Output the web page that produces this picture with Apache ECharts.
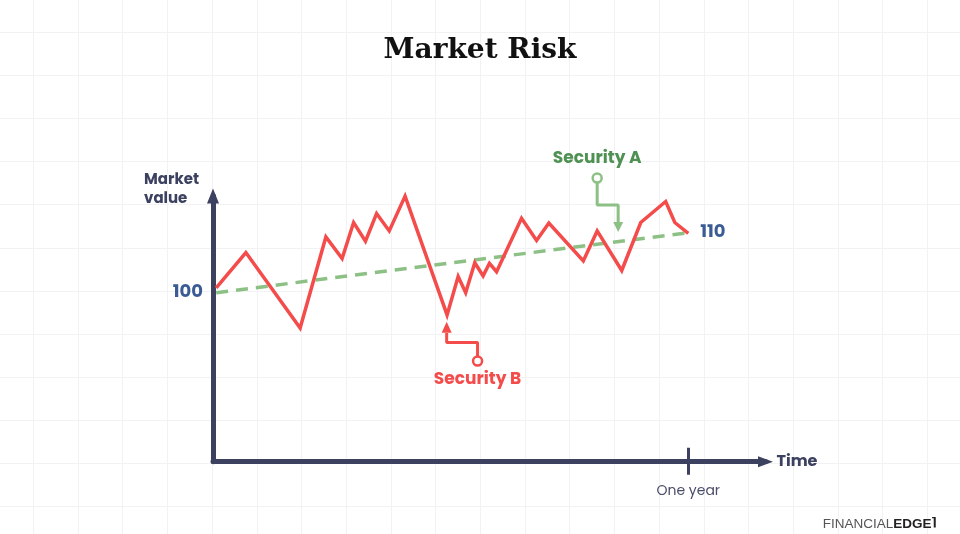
<!DOCTYPE html>
<html>
<head>
<meta charset="utf-8">
<title>Market Risk</title>
<script src="https://cdn.jsdelivr.net/npm/echarts@6/dist/echarts.min.js"></script>
<style>
  html, body { margin: 0; padding: 0; background: #fff; }
  #chart { width: 960px; height: 534px; }
</style>
</head>
<body>
<div id="chart"></div>
<script>
// x = months since start, y = market value (start = 100)
var securityB = [
  [0.08, 100.8], [0.83, 106.7], [2.20, 94.1], [2.85, 109.3], [3.26, 105.7],
  [3.55, 111.7], [3.85, 108.6], [4.13, 113.2], [4.45, 110.3], [4.85, 116.1],
  [5.91, 96.3], [6.19, 102.7], [6.38, 100.0], [6.61, 105.0], [6.82, 102.8],
  [6.98, 104.9], [7.16, 103.5], [7.79, 112.4], [8.17, 108.7], [8.48, 111.6],
  [9.35, 105.3], [9.70, 110.3], [10.32, 103.7], [10.80, 111.7], [11.43, 115.2],
  [11.66, 111.7], [12.0, 109.9]
];
var securityA = [[0.08, 100], [12.0, 110]];
var oneYear = [12];
var valueTicks = [100];

// callout paths (circle -> elbow -> arrow)
var pointerA = [[9.70, 119.1], [9.70, 114.6], [10.23, 114.6], [10.23, 111.8]];
var arrowA = [[10.23, 110.95]];
var pointerB = [[6.68, 88.6], [6.68, 91.7], [5.90, 91.7], [5.90, 93.3]];
var arrowB = [[5.90, 94.25]];

var navy = '#3c4160';
var blue = '#3b5b94';
var red = '#f44b4b';
var green = '#8cc084';
var greenText = '#4f9152';
var font = 'Poppins, Inter, sans-serif';

var chart = echarts.init(document.getElementById('chart'));

var option = {
  backgroundColor: '#fff',
  animation: false,
  title: [
    {
      text: 'Market Risk',
      left: 'center',
      top: 32,
      textStyle: { fontFamily: 'DejaVu Serif', fontWeight: 'bold', fontSize: 28, color: '#111' }
    },
    {
      text: 'Market\nvalue',
      left: 139,
      top: 166,
      textStyle: { fontFamily: font, fontWeight: 'bold', fontSize: 15, lineHeight: 19, color: navy }
    },
    {
      text: '{a|FINANCIAL}{b|EDGE}{c|⌉}',
      right: 18,
      top: 512,
      textStyle: {
        rich: {
          a: { fontFamily: 'Liberation Sans Narrow, Liberation Sans', fontSize: 13.5, color: '#555', fontWeight: 'normal' },
          b: { fontFamily: 'Liberation Sans Narrow, Liberation Sans', fontSize: 13.5, color: '#222', fontWeight: 'bold' },
          c: { fontFamily: 'DejaVu Sans', fontSize: 12, color: '#222', verticalAlign: 'top' }
        }
      }
    }
  ],
  grid: [
    { left: 213, top: 196, right: 194.5, bottom: 72.3, outerBoundsMode: 'none' },
    { left: -11.4, top: -10.8, width: 983.4, height: 560.3, outerBoundsMode: 'none' }
  ],
  xAxis: [
    {
      type: 'value', gridIndex: 0, min: 0, max: 13.95,
      axisLine: { show: true, symbol: ['none', 'triangle'], symbolSize: [11, 15], lineStyle: { color: navy, width: 5 } },
      axisTick: { show: true, customValues: oneYear, length: 13, lineStyle: { color: navy, width: 3 } },
      axisLabel: {
        show: true, customValues: oneYear, margin: 23,
        formatter: function () { return 'One year'; },
        fontFamily: font, fontSize: 14, color: '#4a4e69'
      },
      splitLine: { show: false },
      name: 'Time', nameLocation: 'end', nameGap: 11,
      nameTextStyle: { fontFamily: font, fontWeight: 'bold', fontSize: 16, color: navy }
    },
    {
      type: 'value', gridIndex: 0, min: 0, max: 13.95, position: 'bottom',
      axisLine: { show: false },
      axisTick: { show: true, inside: true, customValues: oneYear, length: 14, lineStyle: { color: navy, width: 3 } },
      axisLabel: { show: false },
      splitLine: { show: false }
    },
    {
      type: 'value', gridIndex: 1, min: 0, max: 22, interval: 1, silent: true,
      axisLine: { show: false }, axisTick: { show: false }, axisLabel: { show: false },
      splitLine: { show: true, lineStyle: { color: '#f2f2f4', width: 1 } }
    }
  ],
  yAxis: [
    {
      type: 'value', gridIndex: 0, min: 71.83, max: 116.12,
      axisLine: { show: true, symbol: ['none', 'triangle'], symbolSize: [12, 15], lineStyle: { color: navy, width: 5 } },
      axisTick: { show: false },
      axisLabel: {
        show: true, customValues: valueTicks, margin: 10,
        fontFamily: font, fontWeight: 'bold', fontSize: 18, color: blue
      },
      splitLine: { show: false }
    },
    {
      type: 'value', gridIndex: 1, min: 0, max: 13, interval: 1, silent: true,
      axisLine: { show: false }, axisTick: { show: false }, axisLabel: { show: false },
      splitLine: { show: true, lineStyle: { color: '#f2f2f4', width: 1 } }
    }
  ],
  series: [
    {
      name: 'Security A',
      type: 'line', xAxisIndex: 0, yAxisIndex: 0,
      data: securityA, showSymbol: false, clip: false, z: 3,
      lineStyle: { color: green, width: 3.5, type: [12, 8] },
      endLabel: {
        show: true, distance: 12,
        formatter: function (p) { return Math.round(p.value[1]); },
        fontFamily: font, fontWeight: 'bold', fontSize: 18, color: blue
      }
    },
    {
      name: 'Security B',
      type: 'line', xAxisIndex: 0, yAxisIndex: 0,
      data: securityB, showSymbol: false, clip: false, z: 4,
      lineStyle: { color: red, width: 3.5, join: 'miter' }
    },
    {
      type: 'line', xAxisIndex: 0, yAxisIndex: 0,
      data: pointerA, showSymbol: false, clip: false, z: 5,
      lineStyle: { color: green, width: 3 }
    },
    {
      type: 'scatter', xAxisIndex: 0, yAxisIndex: 0, clip: false, z: 6,
      data: arrowA, symbol: 'triangle', symbolRotate: 180, symbolSize: [10, 10],
      itemStyle: { color: green, opacity: 1 }
    },
    {
      type: 'scatter', xAxisIndex: 0, yAxisIndex: 0, clip: false, z: 6,
      data: [pointerA[0]], symbol: 'circle', symbolSize: 9,
      itemStyle: { color: '#fff', borderColor: green, borderWidth: 2.5, opacity: 1 },
      label: {
        show: true, position: 'top', distance: 5,
        formatter: 'Security A',
        fontFamily: font, fontWeight: 'bold', fontSize: 17, color: greenText
      }
    },
    {
      type: 'line', xAxisIndex: 0, yAxisIndex: 0,
      data: pointerB, showSymbol: false, clip: false, z: 5,
      lineStyle: { color: red, width: 3 }
    },
    {
      type: 'scatter', xAxisIndex: 0, yAxisIndex: 0, clip: false, z: 6,
      data: arrowB, symbol: 'triangle', symbolSize: [10, 11],
      itemStyle: { color: red, opacity: 1 }
    },
    {
      type: 'scatter', xAxisIndex: 0, yAxisIndex: 0, clip: false, z: 6,
      data: [pointerB[0]], symbol: 'circle', symbolSize: 9,
      itemStyle: { color: '#fff', borderColor: red, borderWidth: 2.5, opacity: 1 },
      label: {
        show: true, position: 'bottom', distance: 4,
        formatter: 'Security B',
        fontFamily: font, fontWeight: 'bold', fontSize: 17, color: red
      }
    }
  ]
};

chart.setOption(option);
</script>
</body>
</html>
